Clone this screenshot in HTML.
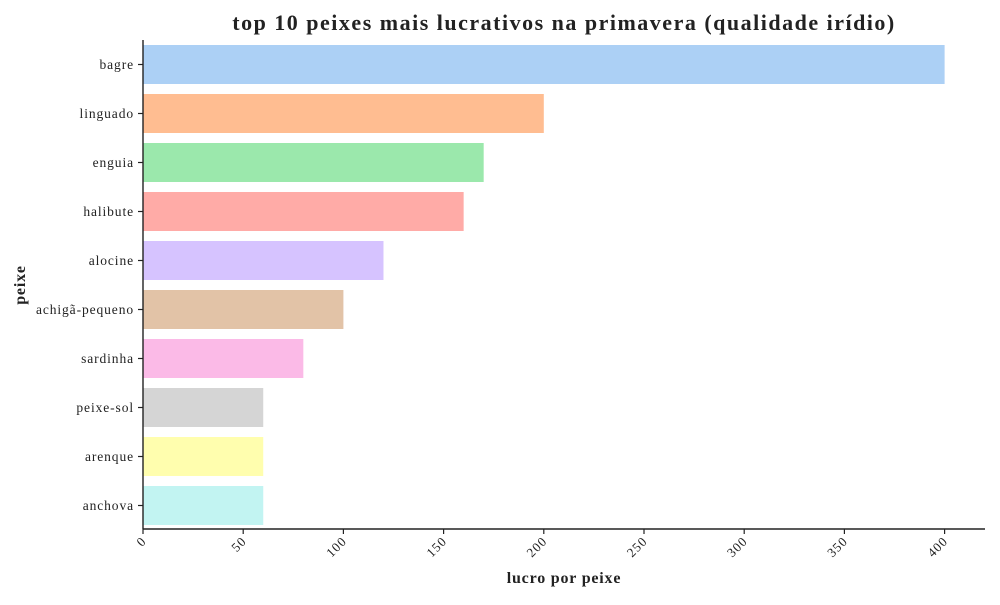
<!DOCTYPE html>
<html><head><meta charset="utf-8"><style>
body{margin:0;background:#fff;}
text{font-family:"Liberation Serif","DejaVu Serif",serif;fill:#222;}
</style></head><body>
<svg id="chart" width="1000" height="600" xmlns="http://www.w3.org/2000/svg">
<text x="564" y="30" text-anchor="middle" font-size="22" font-weight="bold" letter-spacing="1.5">top 10 peixes mais lucrativos na primavera (qualidade irídio)</text>
<text x="564" y="583" text-anchor="middle" font-size="16" font-weight="bold" letter-spacing="0.8">lucro por peixe</text>
<text transform="translate(25,285) rotate(-90)" text-anchor="middle" font-size="16" font-weight="bold" letter-spacing="0.8">peixe</text>
<g id="bars"></g><g id="axes"></g>
</svg>
<script>
const categories=["bagre","linguado","enguia","halibute","alocine","achigã-pequeno","sardinha","peixe-sol","arenque","anchova"];
const values=[400,200,170,160,120,100,80,60,60,60];
const colors=["#a1c9f4","#ffb482","#8de5a1","#ff9f9b","#d0bbff","#debb9b","#fab0e4","#cfcfcf","#fffea3","#b9f2f0"];
const xTicks=[0,50,100,150,200,250,300,350,400];
const NS="http://www.w3.org/2000/svg";
const x0=143,xScale=v=>x0+v*2.004;
const y0=40,step=49,y=i=>y0+i*step;
function mk(t,a,p){const e=document.createElementNS(NS,t);for(const k in a)e.setAttribute(k,a[k]);p.appendChild(e);return e;}
const bars=document.getElementById('bars'),axes=document.getElementById('axes');
categories.forEach((c,i)=>{
 const r=mk('rect',{x:x0,y:y(i)+5,width:xScale(values[i])-x0,height:39,fill:colors[i],opacity:0.88},bars);
 
 
 const cy=y(i)+24.5;
 mk('line',{x1:x0-5,x2:x0,y1:cy,y2:cy,stroke:'#222','stroke-width':1.2},axes);
 const t=mk('text',{x:x0-9,y:cy+4.5,'text-anchor':'end','font-size':13.5,'letter-spacing':0.9},axes);
 t.textContent=c;
 
 
});
const yb=529;
mk('line',{x1:x0,x2:x0,y1:y0,y2:yb,stroke:'#222','stroke-width':1.4},axes);
mk('line',{x1:x0,x2:985,y1:yb,y2:yb,stroke:'#222','stroke-width':1.4},axes);
xTicks.forEach(v=>{
 const x=xScale(v);
 mk('line',{x1:x,x2:x,y1:yb,y2:yb+5,stroke:'#222','stroke-width':1.2},axes);
 const t=mk('text',{x:0,y:0,'text-anchor':'end','font-size':13,'letter-spacing':1,transform:`translate(${x+4},${yb+13}) rotate(-45)`},axes);
 t.textContent=v;
 
 
});
</script>
</body></html>
